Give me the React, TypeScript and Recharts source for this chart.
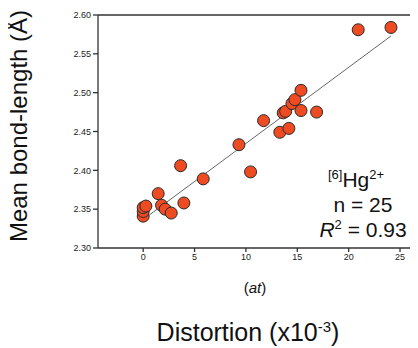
import React from 'react';
import {
  ScatterChart,
  Scatter,
  XAxis,
  YAxis,
  ReferenceLine,
  Customized,
} from 'recharts';

// distortion (x10^-3) and mean bond-length (Å) for [6]Hg2+
const distortion = [
  0, 0, 0, 0.26, 1.46, 1.79, 2.14, 2.73, 3.64, 3.96, 5.84, 9.32, 10.45,
  11.72, 13.3, 13.63, 13.87, 14.18, 14.48, 14.77, 15.36, 15.36, 16.88, 20.93, 24.12,
];
const bondLength = [
  2.341, 2.347, 2.352, 2.354, 2.37, 2.355, 2.35, 2.345, 2.406, 2.358, 2.389, 2.433, 2.398,
  2.464, 2.449, 2.474, 2.476, 2.454, 2.486, 2.491, 2.503, 2.477, 2.475, 2.581, 2.584,
];

// fitted line end points
const fitX = [0.65, 24.12];
const fitY = [2.343, 2.573];

const xTicks = [0, 5, 10, 15, 20, 25];
const yTicks = [2.3, 2.35, 2.4, 2.45, 2.5, 2.55, 2.6];

const points = distortion.map((x, i) => ({ x, y: bondLength[i] }));
const fitLine = fitX.map((x, i) => ({ x, y: fitY[i] }));

const FONT = '"Liberation Sans", Arial, Helvetica, sans-serif';
const AXIS = '#333';

const Annotations = () => (
  <g fontFamily={FONT} fill="#111">
    <text x={356} y={187} fontSize={21} textAnchor="middle">
      <tspan fontSize={13} dy={-8}>[6]</tspan>
      <tspan dy={8}>Hg</tspan>
      <tspan fontSize={13} dy={-8}>2+</tspan>
    </text>
    <text x={363} y={212} fontSize={21} textAnchor="middle">n = 25</text>
    <text x={363} y={237} fontSize={21} textAnchor="middle">
      <tspan fontStyle="italic">R</tspan>
      <tspan fontSize={13} dy={-8}>2</tspan>
      <tspan dy={8}> = 0.93</tspan>
    </text>
    <text x={255} y={293} fontSize={15} textAnchor="middle">
      (<tspan fontStyle="italic">at</tspan>)
    </text>
    <text x={248} y={341} fontSize={25} textAnchor="middle">
      Distortion (x10<tspan fontSize={15} dy={-9}>-3</tspan>
      <tspan dy={9}>)</tspan>
    </text>
    <text
      x={0}
      y={0}
      fontSize={24}
      textAnchor="middle"
      transform="translate(27,126) rotate(-90)"
    >
      Mean bond-length (Å)
    </text>
  </g>
);

export default function App() {
  return (
    <div style={{ marginLeft: -8, marginTop: -8, background: '#fff' }}>
      <ScatterChart
        width={418}
        height={348}
        margin={{ top: 15, right: 0, bottom: 0, left: 0 }}
      >
        <XAxis
          type="number"
          dataKey="x"
          domain={[-4.4, 26.75]}
          ticks={xTicks}
          allowDataOverflow
          height={100}
          tickSize={4}
          stroke={AXIS}
          strokeWidth={1.3}
          tick={{ fontSize: 9, fill: '#222', fontFamily: FONT }}
        />
        <YAxis
          type="number"
          dataKey="y"
          domain={[2.3, 2.6]}
          ticks={yTicks}
          allowDataOverflow
          width={98}
          tickSize={5}
          stroke={AXIS}
          strokeWidth={1.3}
          tickFormatter={(v: number) => v.toFixed(2)}
          tick={{ fontSize: 9, fill: '#222', fontFamily: FONT }}
        />
        <ReferenceLine y={2.6} stroke={AXIS} strokeWidth={1.3} ifOverflow="extendDomain" />
        <Scatter
          data={fitLine}
          line={{ stroke: '#666', strokeWidth: 1 }}
          shape={() => <g />}
          isAnimationActive={false}
        />
        <Scatter
          data={points}
          fill="#EE4B22"
          stroke="#2a2a2a"
          strokeWidth={1}
          shape={(p: any) => (
            <circle cx={p.cx} cy={p.cy} r={6} fill="#EE4B22" stroke="#2a2a2a" strokeWidth={1} />
          )}
          isAnimationActive={false}
        />
        <Customized component={Annotations} />
      </ScatterChart>
    </div>
  );
}
